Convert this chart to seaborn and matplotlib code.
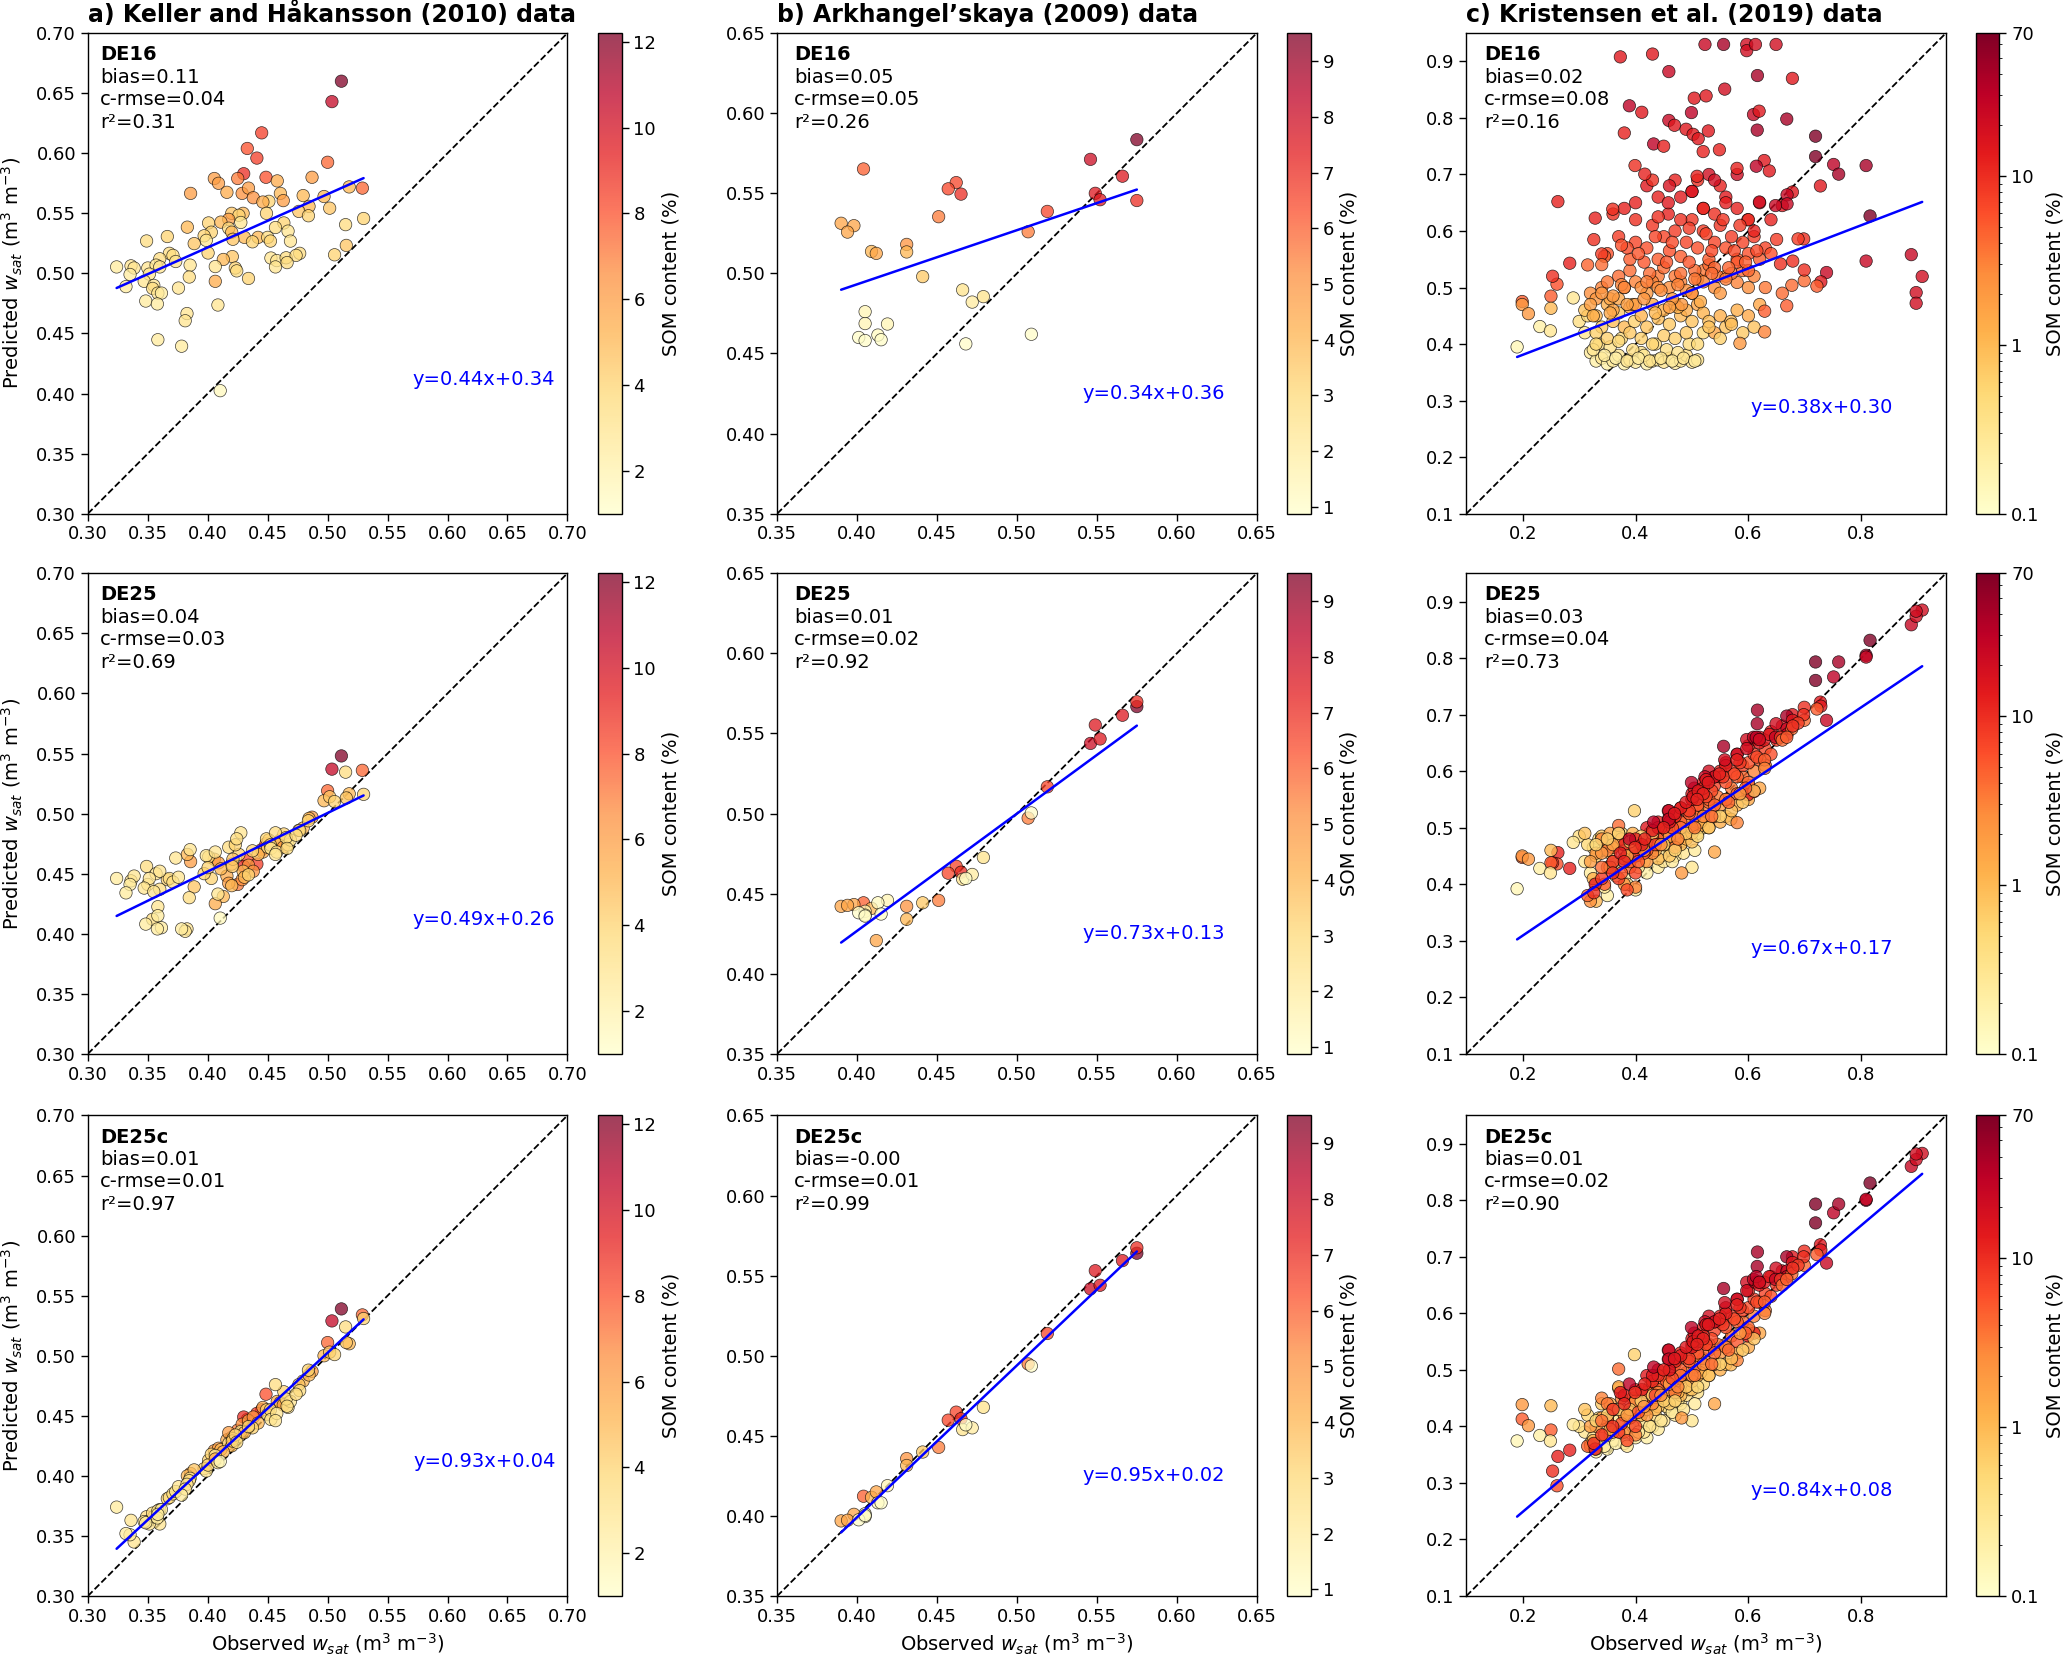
import numpy as np
import matplotlib
matplotlib.use("Agg")
import matplotlib.pyplot as plt
import matplotlib.colors as mcolors
import matplotlib.cm as cm
import seaborn as sns

# ---------------- values ----------------
models = ["DE16", "DE25", "DE25c"]
titles = ["a) Keller and Håkansson (2010) data",
          "b) Arkhangel’skaya (2009) data",
          "c) Kristensen et al. (2019) data"]

# a) Keller and Håkansson
obs_a = [0.5115, 0.5036, 0.445, 0.433, 0.441, 0.500, 0.430, 0.4486, 0.4055, 0.425,
         0.487, 0.458, 0.409, 0.518, 0.529, 0.3857, 0.416, 0.4287, 0.434, 0.438,
         0.4606, 0.4796, 0.451, 0.446, 0.463, 0.497, 0.5017, 0.4845, 0.476, 0.484,
         0.530, 0.515, 0.449, 0.420, 0.4295, 0.426, 0.4175, 0.411, 0.4007, 0.383,
         0.4175, 0.4276, 0.4635, 0.467, 0.4565, 0.403, 0.397, 0.420, 0.4306, 0.442,
         0.450, 0.3663, 0.349, 0.4373, 0.421, 0.4523, 0.469, 0.3988, 0.3887, 0.5156,
         0.4003, 0.368, 0.371, 0.360, 0.4527, 0.4576, 0.4654, 0.4767, 0.4737, 0.5058,
         0.4205, 0.413, 0.3733, 0.3853, 0.324, 0.336, 0.3386, 0.350, 0.3569, 0.360,
         0.4063, 0.423, 0.4242, 0.4565, 0.4662, 0.3352, 0.3513, 0.3846, 0.434, 0.3318,
         0.347, 0.355, 0.4063, 0.3756, 0.354, 0.3584, 0.3614, 0.3483, 0.358, 0.4085,
         0.3827, 0.3812, 0.3584, 0.3782, 0.4104]
som_a = [12.2, 10.5, 8.5, 8.0, 8.5, 7.5, 9.0, 8.0, 6.0, 7.0,
         6.0, 5.5, 6.0, 5.0, 7.5, 6.0, 5.5, 6.5, 6.0, 6.5,
         5.0, 5.0, 4.0, 5.5, 6.0, 5.0, 4.5, 5.0, 4.5, 4.0,
         4.0, 3.5, 4.0, 4.5, 5.0, 4.0, 6.0, 5.0, 4.0, 5.0,
         3.5, 3.0, 4.0, 3.0, 3.5, 4.0, 4.0, 5.0, 5.0, 5.0,
         3.5, 4.0, 3.5, 4.0, 4.5, 4.0, 3.0, 3.0, 4.5, 4.5,
         4.0, 3.5, 3.5, 3.5, 3.0, 3.0, 3.5, 3.5, 3.5, 4.0,
         4.5, 5.0, 3.0, 3.0, 2.5, 3.0, 3.0, 3.0, 3.0, 3.0,
         3.0, 4.0, 3.5, 3.0, 3.5, 2.5, 3.0, 3.5, 4.0, 2.5,
         3.0, 3.0, 5.5, 3.0, 3.5, 3.0, 2.5, 2.5, 2.5, 3.0,
         3.0, 3.0, 2.5, 2.5, 1.5]
de16_a = [0.660, 0.643, 0.617, 0.604, 0.596, 0.5925, 0.583, 0.580, 0.579, 0.579,
          0.580, 0.577, 0.575, 0.572, 0.571, 0.5666, 0.5675, 0.5666, 0.571, 0.563,
          0.5666, 0.5648, 0.560, 0.5594, 0.5606, 0.564, 0.5543, 0.5558, 0.5516, 0.548,
          0.5457, 0.5406, 0.550, 0.550, 0.550, 0.5484, 0.545, 0.5427, 0.542, 0.5385,
          0.5376, 0.5424, 0.542, 0.5352, 0.5382, 0.5343, 0.5313, 0.5343, 0.530, 0.530,
          0.530, 0.5307, 0.527, 0.5263, 0.5284, 0.5269, 0.5269, 0.5275, 0.5248, 0.5233,
          0.517, 0.5167, 0.515, 0.5122, 0.5128, 0.5107, 0.513, 0.5167, 0.515, 0.5155,
          0.514, 0.5116, 0.5099, 0.5069, 0.5054, 0.5063, 0.5045, 0.5045, 0.5069, 0.5054,
          0.5057, 0.5045, 0.5021, 0.5054, 0.509, 0.4991, 0.4994, 0.4970, 0.4958, 0.489,
          0.4934, 0.490, 0.4934, 0.4878, 0.4875, 0.4836, 0.4836, 0.477, 0.4746, 0.4737,
          0.4666, 0.4606, 0.4448, 0.4394, 0.4024]
de25_a = [0.548, 0.537, 0.470, 0.462, 0.458, 0.519, 0.456, 0.475, 0.462, 0.441,
          0.497, 0.476, 0.459, 0.5165, 0.536, 0.460, 0.448, 0.445, 0.457, 0.452,
          0.478, 0.488, 0.478, 0.468, 0.472, 0.5107, 0.514, 0.496, 0.486, 0.494,
          0.516, 0.5345, 0.479, 0.458, 0.452, 0.466, 0.442, 0.454, 0.464, 0.466,
          0.472, 0.484, 0.483, 0.474, 0.484, 0.446, 0.450, 0.440, 0.447, 0.466,
          0.472, 0.445, 0.456, 0.469, 0.462, 0.474, 0.478, 0.465, 0.439, 0.513,
          0.455, 0.446, 0.443, 0.437, 0.471, 0.468, 0.480, 0.486, 0.482, 0.510,
          0.456, 0.431, 0.463, 0.470, 0.446, 0.444, 0.448, 0.441, 0.450, 0.452,
          0.468, 0.474, 0.479, 0.466, 0.471, 0.441, 0.446, 0.430, 0.449, 0.434,
          0.438, 0.435, 0.425, 0.447, 0.412, 0.4225, 0.405, 0.408, 0.404, 0.433,
          0.404, 0.402, 0.415, 0.404, 0.413]
de25c_a = [0.539, 0.529, 0.455, 0.447, 0.452, 0.511, 0.449, 0.468, 0.421, 0.438,
           0.487, 0.462, 0.423, 0.510, 0.534, 0.402, 0.430, 0.443, 0.446, 0.449,
           0.461, 0.479, 0.452, 0.457, 0.459, 0.500, 0.503, 0.484, 0.476, 0.488,
           0.531, 0.524, 0.455, 0.432, 0.437, 0.433, 0.436, 0.422, 0.413, 0.400,
           0.427, 0.437, 0.470, 0.457, 0.476, 0.418, 0.406, 0.425, 0.436, 0.444,
           0.451, 0.381, 0.366, 0.440, 0.431, 0.455, 0.462, 0.404, 0.405, 0.511,
           0.409, 0.382, 0.385, 0.372, 0.447, 0.452, 0.464, 0.471, 0.468, 0.501,
           0.429, 0.420, 0.387, 0.398, 0.374, 0.363, 0.345, 0.362, 0.368, 0.360,
           0.417, 0.434, 0.428, 0.446, 0.458, 0.351, 0.360, 0.396, 0.441, 0.352,
           0.362, 0.366, 0.414, 0.391, 0.369, 0.371, 0.372, 0.361, 0.365, 0.411,
           0.393, 0.389, 0.368, 0.384, 0.412]

# b) Arkhangel'skaya
obs_b = [0.575, 0.546, 0.566, 0.549, 0.552, 0.575, 0.519, 0.507, 0.404, 0.462,
         0.457, 0.465, 0.451, 0.390, 0.398, 0.394, 0.431, 0.431, 0.409, 0.412,
         0.441, 0.466, 0.479, 0.472, 0.405, 0.405, 0.419, 0.401, 0.405, 0.413,
         0.415, 0.509, 0.468]
som_b = [9.5, 8.0, 7.5, 7.5, 7.5, 7.0, 6.5, 5.5, 6.0, 6.5,
         6.5, 7.0, 5.5, 4.5, 4.5, 4.5, 5.0, 4.0, 4.0, 4.5,
         3.5, 2.5, 2.5, 2.0, 1.5, 1.5, 1.5, 1.0, 1.0, 1.2,
         1.0, 1.0, 1.0]
de16_b = [0.5835, 0.5712, 0.5607, 0.550, 0.546, 0.5455, 0.5387, 0.526, 0.5652, 0.5567,
          0.5528, 0.5495, 0.5354, 0.5313, 0.5298, 0.5258, 0.5181, 0.5134, 0.5137, 0.5125,
          0.498, 0.4897, 0.4855, 0.4821, 0.4761, 0.4687, 0.4684, 0.460, 0.4581, 0.4615,
          0.4586, 0.462, 0.456]
de25_b = [0.5668, 0.5438, 0.5614, 0.5553, 0.5466, 0.5698, 0.5167, 0.4972, 0.4443, 0.4671,
          0.4628, 0.4634, 0.4458, 0.4421, 0.4432, 0.4427, 0.4421, 0.434, 0.4408, 0.4207,
          0.4443, 0.459, 0.4726, 0.462, 0.439, 0.4366, 0.4458, 0.4381, 0.436, 0.4443,
          0.4373, 0.5004, 0.4595]
de25c_b = [0.564, 0.5418, 0.5594, 0.5531, 0.544, 0.5674, 0.5139, 0.4949, 0.4123, 0.4648,
           0.4598, 0.4607, 0.4428, 0.3969, 0.401, 0.3973, 0.4358, 0.4315, 0.4116, 0.415,
           0.4399, 0.4539, 0.4678, 0.455, 0.4014, 0.3996, 0.4189, 0.3976, 0.4003, 0.4082,
           0.4082, 0.4936, 0.4569]

# c) Kristensen et al.
obs_c = [
    # light
    0.31, 0.32, 0.33, 0.34, 0.35, 0.36, 0.37, 0.38, 0.39, 0.40, 0.41, 0.42, 0.43, 0.44, 0.45,
    0.46, 0.47, 0.48, 0.49, 0.50, 0.51, 0.335, 0.355, 0.375, 0.395, 0.415, 0.435, 0.455, 0.475,
    0.495, 0.325, 0.345, 0.365, 0.385, 0.405, 0.425, 0.445, 0.465, 0.485, 0.505, 0.30, 0.315, 0.52,
    # medium
    0.31, 0.33, 0.34, 0.35, 0.36, 0.37, 0.38, 0.39, 0.398, 0.41, 0.42, 0.43, 0.44, 0.45, 0.46,
    0.47, 0.48, 0.49, 0.50, 0.51, 0.52, 0.53, 0.54, 0.55, 0.56, 0.569, 0.58, 0.60, 0.62,
    0.355, 0.395, 0.435, 0.475, 0.515, 0.33, 0.37,
    # orange
    0.32, 0.34, 0.36, 0.37, 0.38, 0.40, 0.42, 0.44, 0.46, 0.48, 0.4817, 0.50, 0.52, 0.54, 0.56,
    0.58, 0.60, 0.35, 0.39, 0.41, 0.43, 0.45, 0.47, 0.49, 0.51, 0.53, 0.55, 0.57, 0.59, 0.61,
    0.63, 0.33, 0.375, 0.425, 0.465, 0.505, 0.545,
    # red-orange
    0.35, 0.37, 0.39, 0.40, 0.42, 0.43, 0.44, 0.45, 0.46, 0.47, 0.48, 0.49, 0.50, 0.51, 0.52,
    0.53, 0.54, 0.55, 0.56, 0.57, 0.58, 0.59, 0.60, 0.61, 0.62, 0.63, 0.64, 0.65,
    0.415, 0.455, 0.495, 0.535, 0.575, 0.615, 0.385, 0.61, 0.599,
    # red
    0.38, 0.40, 0.42, 0.44, 0.458, 0.458, 0.48, 0.50, 0.52, 0.54, 0.56, 0.58, 0.60, 0.62, 0.64,
    0.66, 0.43, 0.47, 0.51, 0.55, 0.53,
    # dense core
    0.32, 0.34, 0.36, 0.38, 0.40, 0.42, 0.44, 0.46, 0.48, 0.50, 0.52, 0.54, 0.56, 0.58, 0.60,
    0.33, 0.35, 0.37, 0.39, 0.41, 0.43, 0.45, 0.47, 0.49, 0.51, 0.53, 0.55, 0.57, 0.59, 0.61,
    0.315, 0.345, 0.375, 0.405, 0.435, 0.465, 0.495, 0.525, 0.555, 0.585,
    0.325, 0.355, 0.385, 0.415, 0.445, 0.475, 0.505, 0.535, 0.565, 0.595,
    0.36, 0.40, 0.44, 0.48, 0.52, 0.56, 0.46, 0.50, 0.54, 0.58,
    # outliers
    0.373, 0.430, 0.459, 0.523, 0.556, 0.597, 0.597, 0.6125, 0.649, 0.616,
    0.678, 0.504, 0.525, 0.558, 0.389, 0.411, 0.499, 0.609, 0.619, 0.668,
    0.459, 0.469, 0.4895, 0.502, 0.529, 0.511, 0.6156, 0.380, 0.432, 0.4498,
    0.5198, 0.5486, 0.719, 0.719, 0.628, 0.614, 0.637, 0.751, 0.760, 0.8086,
    0.399, 0.4163, 0.509, 0.5798, 0.7276, 0.678, 0.6685, 0.6685, 0.648, 0.8156,
    0.6195, 0.2623, 0.2607, 0.2529, 0.3284, 0.3595, 0.326, 0.2833, 0.34, 0.34,
    0.199, 0.199, 0.2101, 0.25, 0.25, 0.2895, 0.2303, 0.249, 0.19, 0.8887,
    0.8086, 0.908, 0.8973, 0.8973, 0.7385, 0.7284, 0.7214, 0.699, 0.677, 0.699,
    0.698, 0.688, 0.6786, 0.6568, 0.66, 0.668, 0.6288, 0.6288, 0.585]
som_c = [
    0.3, 0.25, 0.2, 0.3, 0.2, 0.25, 0.3, 0.2, 0.3, 0.25, 0.35, 0.2, 0.3, 0.25, 0.3,
    0.35, 0.25, 0.3, 0.4, 0.3, 0.35, 0.4, 0.35, 0.45, 0.4, 0.3, 0.45, 0.4, 0.35,
    0.45, 0.3, 0.25, 0.2, 0.3, 0.25, 0.35, 0.3, 0.25, 0.3, 0.25, 0.4, 0.5, 0.5,
    0.8, 1.0, 0.7, 1.2, 0.9, 0.7, 1.0, 1.3, 0.6, 1.1, 0.8, 1.4, 0.9, 1.2, 0.7,
    1.5, 1.0, 1.3, 0.8, 1.5, 1.1, 0.9, 1.5, 1.2, 0.8, 1.0, 1.2, 1.4, 1.5,
    1.5, 1.2, 1.0, 1.2, 1.3, 0.6, 1.5,
    2.5, 3.0, 2.0, 4.0, 2.5, 3.0, 2.0, 3.5, 2.5, 3.0, 2.0, 2.0, 3.5, 2.5, 3.0,
    3.0, 2.5, 3.5, 4.0, 2.5, 3.0, 4.0, 3.5, 2.5, 3.0, 4.0, 2.0, 3.5, 4.0, 3.0,
    3.5, 2.0, 3.0, 4.0, 2.0, 4.0, 3.5,
    6, 8, 5, 7, 6, 9, 5, 7, 6, 8, 5, 7, 9, 6, 8,
    5, 7, 9, 6, 8, 5, 7, 6, 8, 5, 7, 6, 8,
    5.5, 5.5, 5.5, 6.5, 6.5, 6.5, 6.5, 12, 15,
    12, 10, 15, 12, 12, 15, 10, 15, 12, 10, 15, 12, 10, 15, 12,
    15, 10, 12, 10, 12, 20,
    1.8, 2.2, 1.6, 2.8, 1.9, 3.2, 2.6, 1.7, 3.8, 2.4, 2.9, 4.5, 3.3, 5.5, 4.2,
    0.5, 0.6, 0.5, 0.7, 0.6, 0.55, 0.65, 0.6, 0.7, 0.5, 0.8, 0.6, 0.9, 0.7, 0.8,
    4.5, 5.0, 6.0, 5.5, 7.0, 6.5, 8.0, 7.5, 9.0, 8.5,
    1.2, 1.4, 1.8, 2.2, 2.6, 3.0, 3.5, 4.0, 4.5, 5.0,
    10, 12, 10, 14, 11, 13, 18, 16, 20, 22,
    15, 15, 25, 25, 40, 20, 20, 20, 20, 40,
    15, 15, 15, 20, 30, 15, 30, 25, 15, 40,
    25, 15, 15, 15, 15, 15, 40, 12, 30, 12,
    12, 12, 70, 70, 15, 30, 15, 30, 40, 40,
    10, 12, 12, 12, 15, 15, 25, 25, 25, 70,
    20, 12, 6, 10, 12, 10, 10, 12, 8, 4,
    5, 2, 2, 5, 1, 0.3, 0.2, 0.3, 0.15, 25,
    25, 20, 20, 20, 25, 15, 5, 4, 4, 10,
    10, 8, 10, 10, 4, 5, 5, 3, 2]
de16_c = [
    0.42, 0.385, 0.37, 0.375, 0.365, 0.37, 0.38, 0.365, 0.372, 0.368, 0.385, 0.365, 0.37, 0.372, 0.368,
    0.375, 0.366, 0.37, 0.38, 0.368, 0.372, 0.40, 0.395, 0.41, 0.39, 0.38, 0.40, 0.39, 0.385,
    0.40, 0.39, 0.38, 0.375, 0.37, 0.375, 0.37, 0.375, 0.37, 0.375, 0.37, 0.44, 0.45, 0.42,
    0.46, 0.45, 0.43, 0.47, 0.44, 0.455, 0.43, 0.465, 0.44, 0.45, 0.43, 0.47, 0.445, 0.46, 0.435,
    0.47, 0.45, 0.46, 0.44, 0.47, 0.455, 0.44, 0.42, 0.45, 0.43, 0.44, 0.46, 0.45, 0.47,
    0.48, 0.47, 0.455, 0.465, 0.475, 0.42, 0.48,
    0.49, 0.50, 0.485, 0.52, 0.50, 0.51, 0.49, 0.52, 0.50, 0.51, 0.47, 0.49, 0.53, 0.50, 0.52,
    0.509, 0.50, 0.51, 0.53, 0.50, 0.51, 0.535, 0.52, 0.495, 0.515, 0.54, 0.49, 0.525, 0.53, 0.52,
    0.50, 0.48, 0.505, 0.525, 0.48, 0.53, 0.52,
    0.56, 0.59, 0.55, 0.58, 0.57, 0.61, 0.55, 0.59, 0.565, 0.60, 0.555, 0.58, 0.62, 0.57, 0.60,
    0.55, 0.58, 0.61, 0.57, 0.59, 0.55, 0.58, 0.56, 0.59, 0.55, 0.57, 0.56, 0.585,
    0.545, 0.545, 0.545, 0.565, 0.565, 0.565, 0.57, 0.60, 0.62,
    0.64, 0.62, 0.68, 0.66, 0.63, 0.65, 0.62, 0.67, 0.64, 0.63, 0.66, 0.64, 0.62, 0.65, 0.62,
    0.645, 0.69, 0.69, 0.69, 0.68, 0.70,
    0.47, 0.49, 0.46, 0.50, 0.47, 0.51, 0.50, 0.465, 0.525, 0.49, 0.51, 0.535, 0.515, 0.545, 0.53,
    0.40, 0.41, 0.405, 0.42, 0.41, 0.40, 0.415, 0.41, 0.42, 0.40, 0.43, 0.41, 0.435, 0.42, 0.43,
    0.54, 0.555, 0.575, 0.56, 0.59, 0.58, 0.605, 0.595, 0.62, 0.61,
    0.45, 0.455, 0.47, 0.48, 0.495, 0.505, 0.515, 0.525, 0.535, 0.545,
    0.63, 0.65, 0.625, 0.66, 0.64, 0.65, 0.68, 0.67, 0.69, 0.70,
    0.908, 0.913, 0.882, 0.930, 0.930, 0.930, 0.919, 0.930, 0.930, 0.875,
    0.870, 0.835, 0.839, 0.851, 0.8215, 0.810, 0.8095, 0.806, 0.812, 0.798,
    0.7956, 0.787, 0.780, 0.771, 0.777, 0.7633, 0.7785, 0.7734, 0.754, 0.750,
    0.7405, 0.7437, 0.7677, 0.7316, 0.7247, 0.7146, 0.7063, 0.7177, 0.7006, 0.7158,
    0.7158, 0.7006, 0.6968, 0.7108, 0.6797, 0.669, 0.664, 0.648, 0.645, 0.6266,
    0.6513, 0.652, 0.506, 0.520, 0.6228, 0.6386, 0.5848, 0.543, 0.5595, 0.5405,
    0.4753, 0.470, 0.4538, 0.4848, 0.4633, 0.4816, 0.431, 0.4234, 0.395, 0.5582,
    0.5468, 0.5196, 0.4911, 0.4722, 0.5266, 0.5101, 0.5025, 0.512, 0.504, 0.531,
    0.586, 0.586, 0.5468, 0.5418, 0.490, 0.4677, 0.4582, 0.4215, 0.4013]
de25_c = [
    0.44, 0.42, 0.40, 0.46, 0.38, 0.43, 0.47, 0.41, 0.445, 0.39, 0.47, 0.42, 0.455, 0.43, 0.44,
    0.46, 0.45, 0.47, 0.485, 0.43, 0.49, 0.48, 0.455, 0.49, 0.465, 0.44, 0.48, 0.47, 0.48,
    0.50, 0.465, 0.395, 0.415, 0.40, 0.43, 0.47, 0.45, 0.44, 0.455, 0.46, 0.485, 0.47, 0.50,
    0.49, 0.37, 0.485, 0.475, 0.44, 0.49, 0.46, 0.48, 0.53, 0.455, 0.47, 0.47, 0.445, 0.475, 0.45,
    0.49, 0.47, 0.48, 0.475, 0.50, 0.515, 0.50, 0.457, 0.51, 0.52, 0.515, 0.54, 0.55, 0.57,
    0.49, 0.49, 0.46, 0.48, 0.51, 0.45, 0.49,
    0.37, 0.48, 0.465, 0.504, 0.40, 0.395, 0.44, 0.47, 0.48, 0.50, 0.42, 0.49, 0.53, 0.52, 0.55,
    0.509, 0.575, 0.46, 0.43, 0.465, 0.455, 0.49, 0.465, 0.51, 0.535, 0.545, 0.54, 0.57, 0.59, 0.60,
    0.61, 0.455, 0.48, 0.49, 0.50, 0.52, 0.555,
    0.43, 0.41, 0.44, 0.42, 0.46, 0.49, 0.48, 0.50, 0.51, 0.52, 0.51, 0.53, 0.55, 0.54, 0.56,
    0.55, 0.575, 0.59, 0.58, 0.60, 0.59, 0.61, 0.615, 0.63, 0.62, 0.64, 0.63, 0.655,
    0.455, 0.495, 0.525, 0.565, 0.595, 0.625, 0.39, 0.564, 0.5583,
    0.47, 0.45, 0.50, 0.51, 0.530, 0.515, 0.535, 0.56, 0.58, 0.59, 0.615, 0.63, 0.645, 0.66, 0.67,
    0.68, 0.485, 0.52, 0.56, 0.60, 0.60,
    0.44, 0.455, 0.47, 0.445, 0.465, 0.475, 0.47, 0.485, 0.50, 0.50, 0.52, 0.54, 0.55, 0.56, 0.58,
    0.47, 0.48, 0.49, 0.475, 0.485, 0.49, 0.47, 0.46, 0.49, 0.485, 0.50, 0.52, 0.53, 0.545, 0.565,
    0.38, 0.40, 0.42, 0.44, 0.47, 0.50, 0.53, 0.555, 0.59, 0.615,
    0.41, 0.43, 0.45, 0.46, 0.47, 0.48, 0.50, 0.52, 0.545, 0.57,
    0.44, 0.48, 0.50, 0.535, 0.57, 0.61, 0.51, 0.55, 0.59, 0.63,
    0.455, 0.495, 0.530, 0.590, 0.644, 0.656, 0.640, 0.656, 0.684, 0.708,
    0.700, 0.570, 0.585, 0.620, 0.480, 0.470, 0.580, 0.660, 0.650, 0.6975,
    0.515, 0.525, 0.545, 0.555, 0.580, 0.565, 0.684, 0.440, 0.510, 0.500,
    0.560, 0.595, 0.7932, 0.7605, 0.655, 0.660, 0.665, 0.7667, 0.7932, 0.805,
    0.465, 0.480, 0.550, 0.620, 0.7222, 0.690, 0.675, 0.665, 0.660, 0.8315,
    0.656, 0.456, 0.436, 0.438, 0.400, 0.420, 0.385, 0.428, 0.410, 0.430,
    0.4475, 0.450, 0.4444, 0.438, 0.460, 0.474, 0.428, 0.420, 0.392, 0.859,
    0.8019, 0.885, 0.874, 0.883, 0.690, 0.715, 0.710, 0.690, 0.675, 0.713,
    0.700, 0.685, 0.680, 0.660, 0.655, 0.660, 0.620, 0.605, 0.560]
de25c_c = [
    0.39, 0.37, 0.355, 0.40, 0.36, 0.375, 0.41, 0.37, 0.395, 0.38, 0.405, 0.38, 0.40, 0.395, 0.41,
    0.43, 0.42, 0.44, 0.455, 0.41, 0.46, 0.415, 0.385, 0.43, 0.40, 0.39, 0.42, 0.435, 0.445,
    0.465, 0.38, 0.365, 0.37, 0.365, 0.39, 0.40, 0.41, 0.425, 0.43, 0.44, 0.40, 0.42, 0.475,
    0.43, 0.36, 0.44, 0.415, 0.39, 0.4675, 0.42, 0.43, 0.527, 0.42, 0.43, 0.445, 0.435, 0.45, 0.44,
    0.465, 0.455, 0.47, 0.465, 0.49, 0.50, 0.49, 0.44, 0.50, 0.51, 0.509, 0.53, 0.54, 0.565,
    0.44, 0.45, 0.43, 0.46, 0.495, 0.37, 0.47,
    0.365, 0.45, 0.43, 0.5015, 0.39, 0.385, 0.42, 0.455, 0.465, 0.485, 0.415, 0.48, 0.52, 0.51, 0.545,
    0.517, 0.57, 0.44, 0.415, 0.445, 0.44, 0.475, 0.46, 0.495, 0.525, 0.535, 0.53, 0.56, 0.585, 0.595,
    0.605, 0.40, 0.45, 0.47, 0.48, 0.505, 0.545,
    0.41, 0.39, 0.425, 0.40, 0.445, 0.475, 0.465, 0.49, 0.50, 0.51, 0.50, 0.52, 0.545, 0.53, 0.55,
    0.545, 0.57, 0.585, 0.575, 0.595, 0.585, 0.605, 0.61, 0.625, 0.62, 0.635, 0.63, 0.65,
    0.44, 0.48, 0.515, 0.555, 0.59, 0.62, 0.375, 0.565, 0.56,
    0.455, 0.445, 0.49, 0.50, 0.535, 0.519, 0.53, 0.555, 0.575, 0.585, 0.61, 0.625, 0.64, 0.655, 0.665,
    0.675, 0.48, 0.515, 0.55, 0.595, 0.595,
    0.40, 0.415, 0.43, 0.42, 0.445, 0.46, 0.46, 0.475, 0.49, 0.49, 0.51, 0.53, 0.54, 0.55, 0.575,
    0.41, 0.42, 0.43, 0.43, 0.445, 0.455, 0.445, 0.445, 0.47, 0.47, 0.49, 0.51, 0.52, 0.535, 0.555,
    0.365, 0.385, 0.405, 0.425, 0.455, 0.485, 0.52, 0.545, 0.58, 0.61,
    0.375, 0.395, 0.42, 0.435, 0.455, 0.47, 0.49, 0.51, 0.535, 0.565,
    0.43, 0.465, 0.49, 0.525, 0.56, 0.60, 0.50, 0.54, 0.585, 0.625,
    0.460, 0.490, 0.535, 0.585, 0.644, 0.655, 0.640, 0.655, 0.680, 0.7085,
    0.700, 0.565, 0.580, 0.619, 0.475, 0.465, 0.575, 0.660, 0.650, 0.700,
    0.519, 0.520, 0.540, 0.550, 0.580, 0.560, 0.683, 0.440, 0.505, 0.500,
    0.555, 0.590, 0.7933, 0.760, 0.655, 0.665, 0.665, 0.7779, 0.7933, 0.800,
    0.460, 0.475, 0.545, 0.615, 0.7213, 0.690, 0.675, 0.665, 0.660, 0.8306,
    0.655, 0.347, 0.295, 0.321, 0.360, 0.400, 0.370, 0.358, 0.385, 0.410,
    0.413, 0.4386, 0.4013, 0.3936, 0.4366, 0.4032, 0.384, 0.3743, 0.3743, 0.860,
    0.8017, 0.883, 0.872, 0.882, 0.689, 0.712, 0.704, 0.685, 0.670, 0.710,
    0.700, 0.685, 0.680, 0.660, 0.650, 0.660, 0.620, 0.600, 0.565]

# statistics printed in each panel (DE16, DE25, DE25c)
bias_a, crmse_a, r2_a = [0.11, 0.04, 0.01], [0.04, 0.03, 0.01], [0.31, 0.69, 0.97]
bias_b, crmse_b, r2_b = [0.05, 0.01, -0.001], [0.05, 0.02, 0.01], [0.26, 0.92, 0.99]
bias_c, crmse_c, r2_c = [0.02, 0.03, 0.01], [0.08, 0.04, 0.02], [0.16, 0.73, 0.90]
slope_a, icpt_a = [0.444, 0.487, 0.927], [0.344, 0.257, 0.039]
slope_b, icpt_b = [0.338, 0.732, 0.948], [0.358, 0.134, 0.020]
slope_c, icpt_c = [0.382, 0.673, 0.8445], [0.3046, 0.1746, 0.080]

# ---------------- style ----------------
sns.set_style("ticks", {"axes.edgecolor": "black", "xtick.color": "black",
                        "ytick.color": "black", "text.color": "black",
                        "axes.labelcolor": "black"})
plt.rcParams["font.family"] = ["DejaVu Sans"]
plt.rcParams["mathtext.fontset"] = "dejavusans"
plt.rcParams["axes.linewidth"] = 1.0
plt.rcParams["xtick.major.size"] = 5
plt.rcParams["ytick.major.size"] = 5
plt.rcParams["xtick.major.width"] = 1.0
plt.rcParams["ytick.major.width"] = 1.0

columns = [
    dict(obs=obs_a, som=som_a, preds=[de16_a, de25_a, de25c_a],
         bias=bias_a, crmse=crmse_a, r2=r2_a, slope=slope_a, icpt=icpt_a,
         norm=mcolors.Normalize(1.0, 12.2), cticks=[2, 4, 6, 8, 10, 12],
         clabels=None, lim=(0.30, 0.70), xticks=np.arange(0.30, 0.7001, 0.05),
         yticks=np.arange(0.30, 0.7001, 0.05), alpha=0.75, cb_alpha=0.75,
         tx=0.026, eq=(0.975, 0.28)),
    dict(obs=obs_b, som=som_b, preds=[de16_b, de25_b, de25c_b],
         bias=bias_b, crmse=crmse_b, r2=r2_b, slope=slope_b, icpt=icpt_b,
         norm=mcolors.Normalize(0.88, 9.5), cticks=list(range(1, 10)),
         clabels=None, lim=(0.35, 0.65), xticks=np.arange(0.35, 0.6501, 0.05),
         yticks=np.arange(0.35, 0.6501, 0.05), alpha=0.75, cb_alpha=0.75,
         tx=0.035, eq=(0.933, 0.25)),
    dict(obs=obs_c, som=som_c, preds=[de16_c, de25_c, de25c_c],
         bias=bias_c, crmse=crmse_c, r2=r2_c, slope=slope_c, icpt=icpt_c,
         norm=mcolors.LogNorm(0.1, 70), cticks=[0.1, 1, 10, 70],
         clabels=["0.1", "1", "10", "70"], lim=(0.1, 0.95),
         xticks=[0.2, 0.4, 0.6, 0.8], yticks=np.arange(0.1, 0.9001, 0.1),
         alpha=0.8, cb_alpha=None, tx=0.037, eq=(0.889, 0.22)),
]

col_left = [0.0425, 0.376, 0.7094]
cbar_left = [0.2892, 0.6227, 0.9558]
row_bottom = [0.690, 0.364, 0.0368]
ax_w, ax_h, cb_w = 0.232, 0.290, 0.0115

fig = plt.figure(figsize=(20.67, 16.57), dpi=100)

for j, col in enumerate(columns):
    for i, model in enumerate(models):
        ax = fig.add_axes([col_left[j], row_bottom[i], ax_w, ax_h])
        lo, hi = col["lim"]
        ax.plot([lo, hi], [lo, hi], ls="--", color="black", lw=1.3, zorder=2)
        sns.scatterplot(x=col["obs"], y=col["preds"][i], hue=col["som"],
                        palette="YlOrRd", hue_norm=col["norm"], s=80,
                        alpha=col["alpha"], edgecolor="black", linewidth=0.5,
                        legend=False, ax=ax, zorder=3)
        x0, x1 = min(col["obs"]), max(col["obs"])
        a, b = col["slope"][i], col["icpt"][i]
        ax.plot([x0, x1], [a * x0 + b, a * x1 + b], color="blue", lw=1.8, zorder=4)

        ax.set_xlim(lo, hi)
        ax.set_ylim(lo, hi)
        ax.set_xticks(col["xticks"])
        ax.set_yticks(col["yticks"])
        ax.tick_params(labelsize=13)

        tx = col["tx"]
        ax.text(tx, 0.955, model, transform=ax.transAxes, fontsize=14,
                fontweight="bold", va="center", ha="left")
        ax.text(tx, 0.908, f"bias={col['bias'][i]:.2f}", transform=ax.transAxes,
                fontsize=14, va="center", ha="left")
        ax.text(tx, 0.862, f"c-rmse={col['crmse'][i]:.2f}", transform=ax.transAxes,
                fontsize=14, va="center", ha="left")
        ax.text(tx, 0.815, f"r²={col['r2'][i]:.2f}", transform=ax.transAxes,
                fontsize=14, va="center", ha="left")
        ax.text(col["eq"][0], col["eq"][1], f"y={a:.2f}x+{b:.2f}", color="blue",
                transform=ax.transAxes, fontsize=14, ha="right", va="center")

        ax.set_xlabel("Observed $w_{sat}$ (m$^3$ m$^{-3}$)" if i == 2 else "", fontsize=14)
        ax.set_ylabel("Predicted $w_{sat}$ (m$^3$ m$^{-3}$)" if j == 0 else "",
                      fontsize=14, labelpad=8)
        if i == 0:
            ax.set_title(titles[j], loc="left", fontsize=17, fontweight="bold", pad=8)

        cax = fig.add_axes([cbar_left[j], row_bottom[i], cb_w, ax_h])
        sm = cm.ScalarMappable(norm=col["norm"], cmap="YlOrRd")
        cb = fig.colorbar(sm, cax=cax, alpha=col["cb_alpha"])
        if col["clabels"] is None:
            cb.set_ticks(col["cticks"])
        else:
            cb.set_ticks(col["cticks"], labels=col["clabels"])
        cb.ax.tick_params(labelsize=13)
        cb.set_label("SOM content (%)", fontsize=14)
        cb.outline.set_edgecolor("black")
        cb.outline.set_linewidth(1.0)

fig.savefig("out.png", dpi=100)
